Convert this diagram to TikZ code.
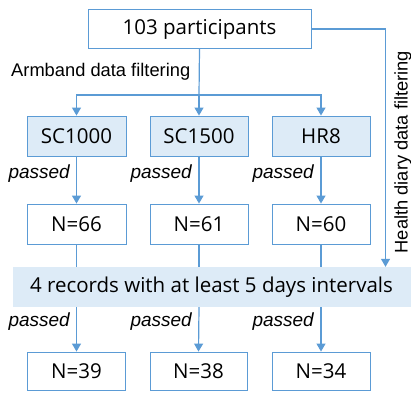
\documentclass[tikz,border=0pt]{standalone}
\usepackage{fontspec}
\setmainfont{Open Sans}
\newfontfamily\labelfont{Liberation Sans}
\usetikzlibrary{arrows.meta}
\definecolor{edgeblue}{HTML}{5B9BD5}
\definecolor{fillblue}{HTML}{DDEBF7}
\tikzset{
  box/.style={draw=edgeblue, line width=0.9pt, minimum height=39pt, inner sep=0pt, font=\fontsize{20.5}{22}\selectfont},
  filterbox/.style={box, fill=fillblue},
  link/.style={draw=edgeblue, line width=1.2pt, -{Triangle[length=8pt,width=9pt]}},
  plain/.style={draw=edgeblue, line width=1.2pt},
  note/.style={font=\labelfont\fontsize{18.3}{20}\selectfont, inner sep=0pt},
  passnote/.style={font=\labelfont\itshape\fontsize{19}{21}\selectfont, inner sep=0pt, anchor=east}
}
\begin{document}
\begin{tikzpicture}[x=1pt,y=-1pt]
\useasboundingbox (0,0) rectangle (411,393);
% top box
\node[box, minimum width=223pt] (top) at (199.5,29) {103 participants};
% device boxes
\node[filterbox, minimum width=99pt, minimum height=40pt] (sc1) at (76.5,136) {SC1000};
\node[filterbox, minimum width=98pt, minimum height=40pt] (sc2) at (199,136) {SC1500};
\node[filterbox, minimum width=98pt, minimum height=40pt] (hr) at (321,136) {HR8};
% after first stage
\node[box, minimum width=99pt, minimum height=40pt] (n1) at (76.5,224) {N=66};
\node[box, minimum width=98pt, minimum height=40pt] (n2) at (199,224) {N=61};
\node[box, minimum width=98pt, minimum height=40pt] (n3) at (321,224) {N=60};
% interval band
\node[fill=fillblue, minimum width=398pt, minimum height=40pt, inner sep=0pt, font=\fontsize{20.5}{22}\selectfont] (band) at (211.5,287) {4 records with at least 5 days intervals};
% final boxes
\node[box, minimum width=98pt, minimum height=38pt] (f1) at (76.5,371) {N=39};
\node[box, minimum width=97pt, minimum height=38pt] (f2) at (198.5,371) {N=38};
\node[box, minimum width=98pt, minimum height=38pt] (f3) at (321,371) {N=34};
% armband branching
\coordinate (split) at (199,95);
\draw[plain] (top.south) -- (split);
\draw[link] (split) -| (sc1.north);
\draw[link] (split) -- (sc2.north);
\draw[link] (split) -| (hr.north);
\node[note, anchor=west] (arm) at (11,72) {Armband data filtering};
% passed links
\draw[link] (sc1) -- (n1);
\draw[link] (sc2) -- (n2);
\draw[link] (hr) -- (n3);
\draw[plain] (n1.south) -- (n1.south |- band.north);
\draw[plain] (n2.south) -- (n2.south |- band.north);
\draw[plain] (n3.south) -- (n3.south |- band.north);
\draw[link] (n1.south |- band.south) -- (f1.north);
\draw[link] (n2.south |- band.south) -- (f2.north);
\draw[link] (n3.south |- band.south) -- (f3.north);
\node[passnote] (p1) at (70,174) {passed};
\node[passnote] (p2) at (192,174) {passed};
\node[passnote] (p3) at (314,174) {passed};
\node[passnote] (p4) at (70,322) {passed};
\node[passnote] (p5) at (192,322) {passed};
\node[passnote] (p6) at (314,322) {passed};
% health diary route
\coordinate (turn) at (385.5,29);
\draw[link] (top.east) -- (turn) -- (turn |- band.north);
\node[note, rotate=90] (diary) at (403,152) {Health diary data filtering};
\end{tikzpicture}
\end{document}
